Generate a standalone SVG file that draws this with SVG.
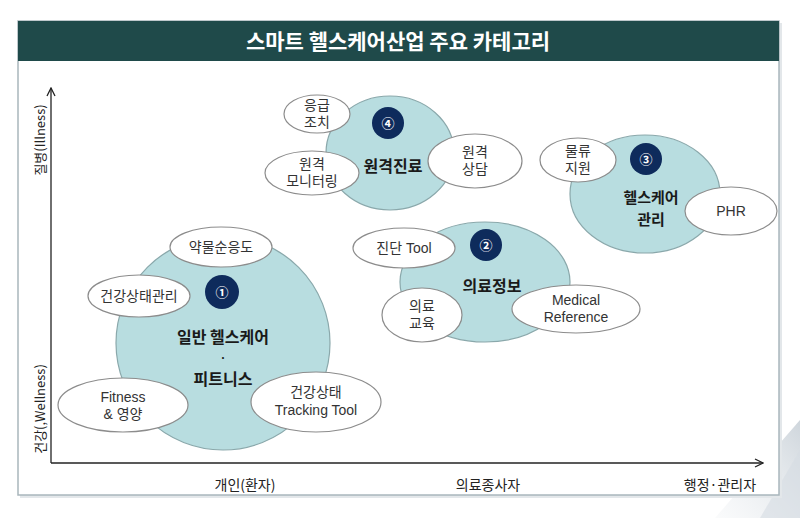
<svg xmlns="http://www.w3.org/2000/svg" width="800" height="518" viewBox="0 0 800 518">
<defs>
<style>
.frame{fill:#ffffff;stroke:#a9b6bc;stroke-width:1.5}
.hdr{fill:#1f4a4a}
.title{font-family:"Noto Sans CJK KR","Noto Sans",sans-serif;font-size:21px;font-weight:bold;fill:#ffffff;text-anchor:middle}
.big{fill:#b8dde0;stroke:#8aa8ab;stroke-width:1.2}
.sub{fill:#ffffff;stroke:#8c8c8c;stroke-width:1.2}
.badge{fill:#0e2b5c}
.bt{font-family:"Noto Sans CJK KR","DejaVu Sans",sans-serif;font-size:13px;fill:#ffffff;text-anchor:middle;font-weight:bold}
.lbl{font-family:"Liberation Sans","Noto Sans CJK KR",sans-serif;font-size:14px;fill:#333333;text-anchor:middle}
.head{font-family:"Noto Sans CJK KR",sans-serif;font-size:16px;font-weight:bold;fill:#1a1a1a;text-anchor:middle}
.dot{font-family:"Noto Sans CJK KR",sans-serif;font-size:11px;font-weight:bold;fill:#1a1a1a;text-anchor:middle}
.ax{fill:none;stroke:#222222;stroke-width:1.3}
.axl{font-family:"Noto Sans CJK KR","Liberation Sans",sans-serif;font-size:13px;fill:#222222;text-anchor:middle}
.axx{font-family:"Noto Sans CJK KR","Liberation Sans",sans-serif;font-size:14px;fill:#222222;text-anchor:middle}
</style>
<marker id="arr" viewBox="0 0 10 10" refX="9" refY="5" markerWidth="10" markerHeight="10" markerUnits="userSpaceOnUse" orient="auto">
<path d="M1,1 L9,5 L1,9" fill="none" stroke="#222222" stroke-width="1.3"/>
</marker>
<linearGradient id="deco" x1="0" y1="1" x2="1" y2="0">
<stop offset="0" stop-color="#e6eaee" stop-opacity="0.2"/>
<stop offset="1" stop-color="#c9d1d8" stop-opacity="0.9"/>
</linearGradient>
</defs>
<rect width="800" height="518" fill="#ffffff"/>
<polygon points="800,420 800,518 715,518" fill="url(#deco)"/>
<polygon points="800,450 800,518 760,518" fill="#d5dce2" opacity="0.6"/>
<g id="frame">
<rect x="20" y="23" width="762" height="475" fill="#e3e7ea"/>
<rect class="frame" x="18" y="21" width="761" height="474"/>
<rect class="hdr" x="18" y="21" width="761" height="40"/>
<text class="title" x="398" y="49">스마트 헬스케어산업 주요 카테고리</text>
</g>
<g id="axes">
<line class="ax" x1="51" y1="463" x2="51" y2="88" marker-end="url(#arr)"/>
<line class="ax" x1="51" y1="463" x2="763" y2="463" marker-end="url(#arr)"/>
<text class="axl" transform="translate(45,140) rotate(-90)">질병(Illness)</text>
<text class="axl" transform="translate(45,409) rotate(-90)">건강(,Wellness)</text>
<text class="axx" x="245" y="490">개인(환자)</text>
<text class="axx" x="488" y="490">의료종사자</text>
<text class="axx" x="720" y="490">행정·관리자</text>
</g>
<g id="cat1">
<circle class="big" cx="223" cy="343" r="107"/>
<circle class="badge" cx="222" cy="292" r="17"/>
<text class="bt" x="222" y="297">①</text>
<text class="head" x="223" y="343">일반 헬스케어</text>
<text class="dot" x="223" y="362">·</text>
<text class="head" x="223" y="385">피트니스</text>
</g>
<g id="cat1-items">
<g id="n-yakmul"><ellipse class="sub" cx="221" cy="247" rx="51" ry="20"/><text class="lbl" x="221" y="252">약물순응도</text></g>
<g id="n-geongang"><ellipse class="sub" cx="139" cy="296" rx="51" ry="21"/><text class="lbl" x="139" y="301">건강상태관리</text></g>
<g id="n-fitness"><ellipse class="sub" cx="123" cy="405" rx="65" ry="27"/><text class="lbl" x="123" y="402">Fitness</text><text class="lbl" x="123" y="419">&amp; 영양</text></g>
<g id="n-tracking"><ellipse class="sub" cx="316" cy="402" rx="65" ry="30"/><text class="lbl" x="316" y="397">건강상태</text><text class="lbl" x="316" y="415">Tracking Tool</text></g>
</g>
<g id="cat4">
<ellipse class="big" cx="390" cy="153" rx="64" ry="57"/>
<circle class="badge" cx="388" cy="123" r="16"/>
<text class="bt" x="388" y="128">④</text>
<text class="head" x="393" y="172">원격진료</text>
</g>
<g id="cat4-items">
<g id="n-eunggeup"><ellipse class="sub" cx="317" cy="114" rx="33" ry="19"/><text class="lbl" x="317" y="110">응급</text><text class="lbl" x="317" y="127">조치</text></g>
<g id="n-monitor"><ellipse class="sub" cx="312" cy="173" rx="47" ry="22"/><text class="lbl" x="312" y="169">원격</text><text class="lbl" x="312" y="186">모니터링</text></g>
<g id="n-sangdam"><ellipse class="sub" cx="475" cy="161" rx="47" ry="27"/><text class="lbl" x="475" y="157">원격</text><text class="lbl" x="475" y="174">상담</text></g>
</g>
<g id="cat3">
<ellipse class="big" cx="645" cy="194" rx="75" ry="59"/>
<circle class="badge" cx="646" cy="159" r="16"/>
<text class="bt" x="646" y="164">③</text>
<text class="head" x="651" y="203" style="font-size:15px">헬스케어</text>
<text class="head" x="651" y="225" style="font-size:15px">관리</text>
</g>
<g id="cat3-items">
<g id="n-mulryu"><ellipse class="sub" cx="578" cy="160" rx="38" ry="22"/><text class="lbl" x="578" y="156">물류</text><text class="lbl" x="578" y="173">지원</text></g>
<g id="n-phr"><ellipse class="sub" cx="731" cy="211" rx="46" ry="24"/><text class="lbl" x="731" y="216">PHR</text></g>
</g>
<g id="cat2">
<ellipse class="big" cx="485" cy="282" rx="85" ry="60"/>
<circle class="badge" cx="486" cy="245" r="16"/>
<text class="bt" x="486" y="250">②</text>
<text class="head" x="492" y="292">의료정보</text>
</g>
<g id="cat2-items">
<g id="n-jindan"><ellipse class="sub" cx="404" cy="248" rx="51" ry="20"/><text class="lbl" x="404" y="253">진단 Tool</text></g>
<g id="n-gyoyuk"><ellipse class="sub" cx="422" cy="315" rx="40" ry="27"/><text class="lbl" x="422" y="311">의료</text><text class="lbl" x="422" y="328">교육</text></g>
<g id="n-medref"><ellipse class="sub" cx="576" cy="309" rx="64" ry="24"/><text class="lbl" x="576" y="305">Medical</text><text class="lbl" x="576" y="322">Reference</text></g>
</g>
</svg>
